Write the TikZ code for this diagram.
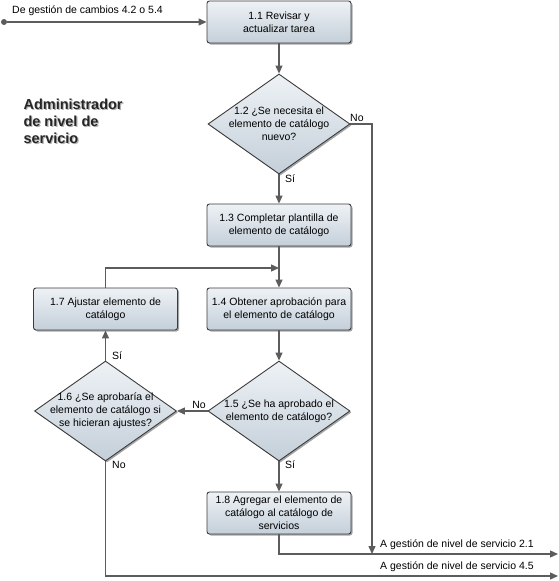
\documentclass[tikz,border=0pt]{standalone}
\usepackage{fontspec}
\setmainfont{Liberation Sans}
\usetikzlibrary{shapes.geometric,arrows.meta,shadows}
\definecolor{boxtop}{HTML}{EEF2F6}
\definecolor{boxbot}{HTML}{C4CFD9}
\definecolor{edge}{HTML}{3C3C3C}
\definecolor{wire}{HTML}{5C5C5C}
\begin{document}
\begin{tikzpicture}[x=1pt,y=-1pt,
  every node/.style={font=\fontsize{10.5}{13}\selectfont},
  task/.style={draw=edge, line width=0.9pt, rounded corners=2.5pt,
    top color=boxtop, bottom color=boxbot,
    minimum width=144pt, minimum height=42pt, inner sep=0pt, align=center,
    drop shadow={shadow xshift=1.5pt, shadow yshift=-1.5pt, opacity=0.35, fill=black}},
  decision/.style={draw=edge, line width=0.9pt, diamond, aspect=1.42,
    top color=boxtop, bottom color=boxbot,
    minimum width=142pt, minimum height=100pt, inner sep=0pt,
    drop shadow={shadow xshift=1.5pt, shadow yshift=-1.5pt, opacity=0.35, fill=black}},
  qtext/.style={align=center, inner sep=0pt},
  flow/.style={draw=wire, line width=1.3pt, -{Triangle[length=8pt,width=7pt]}},
  tag/.style={inner sep=1pt},
  dot/.style={circle, fill=wire, inner sep=0pt, minimum size=6pt},
]
\useasboundingbox (0,0) rectangle (558,581);

% title with soft shadow
\node[anchor=north west, align=left, text=black!30, font=\fontsize{14.5}{17}\selectfont\bfseries]
  (titleshadow) at (21.2,96.2) {Administrador\\de nivel de\\servicio};
\node[anchor=north west, align=left, text=black!85, font=\fontsize{14.5}{17}\selectfont\bfseries]
  (title) at (20,95) {Administrador\\de nivel de\\servicio};

% tasks and decisions
\node[task] (t11) at (279,22) {1.1 Revisar y\\actualizar tarea};
\node[decision] (d12) at (279,124) {};
\node[qtext] (q12) at (279,124) {1.2 ¿Se necesita el\\elemento de catálogo\\nuevo?};
\node[task] (t13) at (279,225) {1.3 Completar plantilla de\\elemento de catálogo};
\node[task] (t14) at (279,309) {1.4 Obtener aprobación para\\el elemento de catálogo};
\node[task] (t17) at (105.5,309) {1.7 Ajustar elemento de\\catálogo};
\node[decision] (d15) at (279,411) {};
\node[qtext] (q15) at (279,411) {1.5 ¿Se ha aprobado el\\elemento de catálogo?};
\node[decision] (d16) at (105.5,411) {};
\node[qtext] (q16) at (105.5,411) {1.6 ¿Se aprobaría el\\elemento de catálogo si\\se hicieran ajustes?};
\node[task] (t18) at (279,513) {1.8 Agregar el elemento de\\catálogo al catálogo de\\servicios};

% entry
\node[dot] (start) at (4,22) {};
\draw[flow] (start) -- (t11.west);
\node[tag, anchor=south west] (lin) at (11,17) {De gestión de cambios 4.2 o 5.4};

% main flow
\draw[flow] (t11.south) -- (d12.north);
\draw[flow] (d12.south) -- (t13.north);
\node[tag, anchor=north west] (si12) at (284,174) {Sí};
\draw[flow] (t13.south) -- (t14.north);
\draw[flow] (t14.south) -- (d15.north);
\draw[flow] (d15.south) -- (t18.north);
\node[tag, anchor=north west] (si15) at (284,460) {Sí};

% 1.2 No branch
\coordinate (c21) at (372,554);
\draw[flow] (d12.east) -| (c21);
\node[tag, anchor=south west] (no12) at (349,123) {No};

% 1.5 No -> 1.6
\draw[flow] (d15.west) -- (d16.east);
\node[tag, anchor=south] (no15) at (199,410) {No};

% 1.6 Si -> 1.7, loop back to 1.4
\draw[flow] (d16.north) -- (t17.south);
\node[tag, anchor=south west] (si16) at (111,361) {Sí};
\coordinate (loop) at (279,268);
\draw[flow] (t17.north) |- (loop);

% exits
\coordinate (out21) at (558,554);
\draw[flow] (t18.south) |- (out21);
\node[tag, anchor=south west] (l21) at (379,551) {A gestión de nivel de servicio 2.1};
\coordinate (out45) at (558,576);
\draw[flow] (d16.south) |- (out45);
\node[tag, anchor=north west] (no16) at (111,460) {No};
\node[tag, anchor=south west] (l45) at (379,573) {A gestión de nivel de servicio 4.5};
\end{tikzpicture}
\end{document}
